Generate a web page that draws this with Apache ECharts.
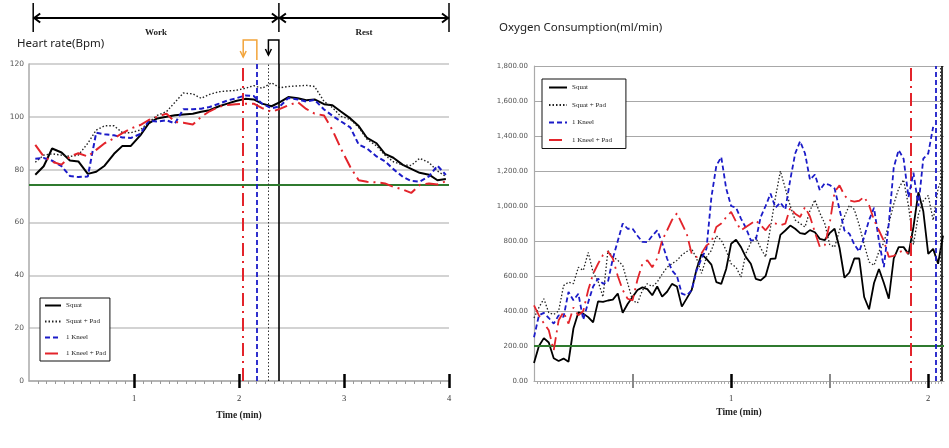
<!DOCTYPE html>
<html><head><meta charset="utf-8">
<script src="https://cdn.jsdelivr.net/npm/echarts@6/dist/echarts.min.js"></script>
<style>html,body{margin:0;padding:0;background:#fff}#c{width:949px;height:448px}</style>
</head><body><div id="c"></div>
<script>
// ---------- Left chart: Heart rate (Bpm) vs time (min) ----------
const hrTime = [0.06,0.14,0.22,0.31,0.39,0.47,0.56,0.64,0.72,0.81,0.89,0.97,1.06,1.14,1.22,1.31,1.39,1.47,1.56,1.64,1.72,1.81,1.89,1.97,2.06,2.14,2.22,2.31,2.39,2.47,2.56,2.64,2.72,2.81,2.89,2.97,3.06,3.14,3.22,3.31,3.39,3.47,3.56,3.64,3.72,3.81,3.89,3.97];
const hrSquat = [78.1,81.3,88,86.5,83.5,83.1,78.4,79.2,81.5,86,89,89,93,97.5,99.4,100,100.6,100.9,101.2,101.9,102.5,104,105,106,106.8,106.6,105,104,105.6,107.5,107,106.3,106.6,104.8,104.4,102,99.4,96.5,92,90,86,84.5,81.8,80.3,78.8,78.1,76,76.5];
const hrSquatPad = [82.8,85.5,86,85.5,85,85.5,90,95,96.6,96.6,94,94,95,98,100.5,102,105.5,109,108.7,107,108.5,109.5,109.8,110,110.8,111.8,110.8,112.9,111,111.5,111.7,111.9,111.5,105.8,103.5,100.2,99,96,91.5,89,85.5,83,81.8,81.6,84.3,82.7,79.5,77.4];
const hrKneel = [84.1,84.4,83.4,81.3,77.6,77.2,77.4,94,93.4,93,92.2,92,93.5,98.5,98.2,98.7,97.5,102.9,102.9,103.1,103.7,105,106.2,107,108.1,107.9,105,103.2,104,107.1,106.6,105.8,106.4,102.8,100.4,98.3,96,89.5,88,85,83.2,80.2,77.3,75.7,75.5,77.5,81.5,78];
const hrKneelPad = [89.4,85,83,81.9,85,86.2,85,87.5,90,91.9,93.8,95.6,96.9,98.8,100,101.2,98.1,97.8,97.1,100,102.1,103.8,104.5,104.8,105,105,103.3,101.9,103,104.4,105.6,103,101.2,100.5,95,88,81,76,75.4,75.2,74.8,73.5,72.5,71.2,74.2,74.8,74.4,75.6];
const hrEndMarks = [2.38, 2.28, 2.17, 2.04];   // end of work per condition
const hrRestLevel = 74.3;
const hrTicks = [1,2,3,4];
const workStart = 0.04, restEnd = 4;

// ---------- Right chart: Oxygen consumption (ml/min) vs time (min) ----------
const o2Time = [0,0.025,0.05,0.075,0.1,0.125,0.15,0.175,0.2,0.225,0.25,0.275,0.3,0.325,0.35,0.375,0.4,0.425,0.45,0.475,0.5,0.525,0.55,0.575,0.6,0.625,0.65,0.675,0.7,0.725,0.75,0.775,0.8,0.825,0.85,0.875,0.9,0.925,0.95,0.975,1,1.025,1.05,1.075,1.1,1.125,1.15,1.175,1.2,1.225,1.25,1.275,1.3,1.325,1.35,1.375,1.4,1.425,1.45,1.475,1.5,1.525,1.55,1.575,1.6,1.625,1.65,1.675,1.7,1.725,1.75,1.775,1.8,1.825,1.85,1.875,1.9,1.925,1.95,1.975,2,2.025,2.05,2.075];
const o2Squat = [103,200,245,220,130,114,128,110,300,392,385,365,335,455,452,460,465,500,390,440,480,520,535,525,490,540,482,510,555,540,425,472,520,640,725,698,665,565,555,640,784,807,765,708,670,584,575,600,698,700,835,860,888,870,845,840,862,850,812,805,845,870,760,590,620,700,700,480,410,560,640,560,470,700,765,765,725,880,1078,970,727,755,670,831];
const o2SquatPad = [360,420,470,390,380,400,545,565,556,650,632,735,620,570,480,745,710,690,660,560,460,445,518,556,540,565,610,650,670,689,720,740,755,700,615,708,746,830,805,746,670,650,594,730,790,820,760,709,880,1050,1200,1100,1000,920,900,880,974,1035,960,900,780,765,861,940,1004,980,890,780,680,661,740,790,900,1010,1100,1150,1000,780,950,1030,1060,918,1100,1180];
const o2Kneel = [250,375,389,360,328,375,366,509,461,499,350,450,540,585,556,566,700,800,900,870,870,830,795,794,830,861,790,700,632,600,499,490,518,632,700,756,1050,1230,1280,1100,1000,990,928,875,804,804,937,1000,1071,990,1020,980,1150,1300,1370,1300,1150,1180,1090,1130,1120,1100,980,860,842,780,740,823,920,990,800,651,900,1220,1320,1270,1050,1190,1000,1271,1300,1452];
const o2KneelPad = [432,375,330,290,175,347,394,328,420,375,400,520,613,670,720,740,700,600,520,470,461,580,670,690,650,700,803,860,920,958,900,841,727,708,730,775,794,880,900,936,966,910,861,880,899,918,890,861,899,900,890,899,990,956,937,994,940,850,766,775,900,1080,1118,1060,1032,1025,1030,1052,1004,920,860,800,709,715,735,747,728];
const o2EndMarks = [2.074, 2.06, 2.036, 1.91];
const o2RestLevel = 200;
const o2MajorTicks = [1,2];
const o2MinorTicks = [0.5,1.5];

const names = ['Squat','Squat + Pad','1 Kneel','1 Kneel + Pad'];
const styles = [
  {color:'#000000', width:2, type:'solid'},
  {color:'#222222', width:1.4, type:[1.5,2]},
  {color:'#1b1bc8', width:2, type:[5,3]},
  {color:'#e3242b', width:2, type:[13,5,2,5]}
];
const markStyles = [
  {color:'#000000', width:1.6, type:'solid'},
  {color:'#333333', width:1, type:[1.5,2]},
  {color:'#1b1bc8', width:1.8, type:[5,3]},
  {color:'#e3242b', width:2, type:[13,5,2,5]}
];
const green = '#2f7a2f';

const pair = (ts, vs) => vs.map((v,i)=>[ts[i], v]);
const hrData = [hrSquat, hrSquatPad, hrKneel, hrKneelPad];
const o2Data = [o2Squat, o2SquatPad, o2Kneel, o2KneelPad];

const series = [];
hrData.forEach((d,i)=>{
  const ml = [{xAxis: hrEndMarks[i], lineStyle: markStyles[i]}];
  if (i===0) ml.push({yAxis: hrRestLevel, lineStyle:{color:green, width:2, type:'solid'}});
  series.push({name:names[i], type:'line', xAxisIndex:0, yAxisIndex:0, data:pair(hrTime,d),
    symbol:'none', lineStyle:styles[i], itemStyle:{color:styles[i].color},
    markLine:{symbol:['none','none'], silent:true, label:{show:false}, data:ml}, z:3+i});
});
o2Data.forEach((d,i)=>{
  const ml = [{xAxis: o2EndMarks[i], lineStyle: markStyles[i]}];
  if (i===0) ml.push({yAxis: o2RestLevel, lineStyle:{color:green, width:2, type:'solid'}});
  const ls = Object.assign({}, styles[i], {width: i===1?1.3:1.8});
  series.push({name:names[i], type:'line', xAxisIndex:2, yAxisIndex:1, data:pair(o2Time,d),
    symbol:'none', lineStyle:ls, itemStyle:{color:styles[i].color},
    markLine:{symbol:['none','none'], silent:true, label:{show:false}, data:ml}, z:3+i});
});

const axName = {fontSize:9.5, fontFamily:'Liberation Serif', fontWeight:'bold', color:'#222'};
const axLab = {fontSize:8.5, fontFamily:'Liberation Serif', color:'#333', margin:13};
const legendBase = {data:names, orient:'vertical', borderColor:'#111', borderWidth:1, backgroundColor:'#fff',
  itemStyle:{opacity:0},
  textStyle:{fontSize:7, fontFamily:'Liberation Serif', color:'#222'}, selectedMode:false};

const chart = echarts.init(document.getElementById('c'));
chart.setOption({
  animation:false,
  grid:[
    {left:29, right:500, top:64, bottom:67},
    {left:534, right:5, top:66, bottom:67}
  ],
  legend:[
    Object.assign({}, legendBase, {left:40, top:298, itemGap:9, itemWidth:16, itemHeight:8, padding:[4,4,4,4]}),
    Object.assign({}, legendBase, {left:542, top:79, itemGap:10.5, itemWidth:18, itemHeight:8, padding:[5,14,5,6]})
  ],
  xAxis:[
    {gridIndex:0, type:'value', position:'bottom', min:0, max:4, interval:1,
      axisLine:{lineStyle:{color:'#aaaaaa', width:1.5}}, axisTick:{show:false},
      minorTick:{show:true, splitNumber:12, length:3, lineStyle:{color:'#999'}},
      splitLine:{show:false}, axisLabel:Object.assign({customValues:hrTicks}, axLab),
      name:'Time (min)', nameLocation:'middle', nameGap:30, nameTextStyle:axName},
    {gridIndex:0, type:'value', position:'bottom', min:0, max:4, interval:1, offset:-7,
      axisLine:{show:false}, axisLabel:{show:false}, splitLine:{show:false},
      axisTick:{show:true, customValues:hrTicks, length:14, lineStyle:{color:'#000', width:2.5}}},
    {gridIndex:1, type:'value', position:'bottom', min:0, max:2.08, interval:0.5,
      axisLine:{lineStyle:{color:'#aaaaaa', width:1.2}}, axisTick:{show:false},
      minorTick:{show:true, splitNumber:30, length:3, lineStyle:{color:'#aaa'}},
      splitLine:{show:false}, axisLabel:Object.assign({customValues:o2MajorTicks}, axLab),
      name:'Time (min)', nameLocation:'middle', nameGap:26, nameTextStyle:axName},
    {gridIndex:1, type:'value', position:'bottom', min:0, max:2.08, interval:0.5, offset:-7,
      axisLine:{show:false}, axisLabel:{show:false}, splitLine:{show:false},
      axisTick:{show:true, customValues:o2MinorTicks, length:14, lineStyle:{color:'#888', width:2}}},
    {gridIndex:1, type:'value', position:'bottom', min:0, max:2.08, interval:0.5, offset:-7,
      axisLine:{show:false}, axisLabel:{show:false}, splitLine:{show:false},
      axisTick:{show:true, customValues:o2MajorTicks, length:14, lineStyle:{color:'#000', width:2.5}}}
  ],
  yAxis:[
    {gridIndex:0, type:'value', min:0, max:120, interval:20,
      axisLine:{show:true, lineStyle:{color:'#aaaaaa', width:1.5}}, axisTick:{show:false},
      splitLine:{lineStyle:{color:'#c4c4c4', width:1.5}},
      axisLabel:{fontSize:7.5, color:'#555', margin:5, fontFamily:'DejaVu Sans'}},
    {gridIndex:1, type:'value', min:0, max:1800, interval:200,
      axisLine:{show:true, lineStyle:{color:'#aaaaaa', width:1.2}}, axisTick:{show:false},
      splitLine:{lineStyle:{color:'#a8a8a8', width:1}},
      axisLabel:{fontSize:7, color:'#555', margin:6, fontFamily:'DejaVu Sans',
        formatter:v=>v.toLocaleString('en-US',{minimumFractionDigits:2, maximumFractionDigits:2})}}
  ],
  series:series
});

// ---------- annotations placed through the axis scale ----------
const X = t => chart.convertToPixel({xAxisIndex:0}, t);
const xa = X(workStart), xm = X(hrEndMarks[0]), xb = X(restEnd);
const ay = 18;
const L = {stroke:'#000', lineWidth:2, fill:null};
const g = [];
g.push({type:'line', shape:{x1:xa,y1:ay,x2:xb,y2:ay}, style:L});
[xa,xm,xb].forEach(x=>g.push({type:'line', shape:{x1:x,y1:3,x2:x,y2:32}, style:{stroke:'#000', lineWidth:1.5}}));
const head=(x,dir)=>({type:'polyline', shape:{points:[[x+dir*7,ay-4.5],[x+dir*1,ay],[x+dir*7,ay+4.5]]}, style:L});
g.push(head(xa,1), head(xm,-1), head(xm,1), head(xb,-1));
g.push({type:'text', x:(xa+xm)/2, y:33, style:{text:'Work', font:'bold 9px "Liberation Serif"', fill:'#222', textAlign:'center', textVerticalAlign:'middle'}});
g.push({type:'text', x:(xm+xb)/2, y:33, style:{text:'Rest', font:'bold 9px "Liberation Serif"', fill:'#222', textAlign:'center', textVerticalAlign:'middle'}});
// brackets
const xr = X(hrEndMarks[3]), xk = X(hrEndMarks[2]), xd = X(hrEndMarks[1]);
const orange = '#f2a43a';
g.push({type:'polyline', shape:{points:[[xr,57],[xr,40],[xk,40],[xk,60]]}, style:{stroke:orange, lineWidth:1.5, fill:null}});
g.push({type:'polyline', shape:{points:[[xr-3,51],[xr,57],[xr+3,51]]}, style:{stroke:orange, lineWidth:1.5, fill:null}});
g.push({type:'polyline', shape:{points:[[xd,55],[xd,40],[xm,40],[xm,64]]}, style:{stroke:'#000', lineWidth:1.5, fill:null}});
g.push({type:'polyline', shape:{points:[[xd-3,49],[xd,55],[xd+3,49]]}, style:{stroke:'#000', lineWidth:1.5, fill:null}});
// titles
g.push({type:'text', x:17, y:44, style:{text:'Heart rate(Bpm)', font:'11.5px "Noto Sans"', fill:'#222', textVerticalAlign:'middle'}});
g.push({type:'text', x:499, y:28, style:{text:'Oxygen Consumption(ml/min)', font:'11.5px "Noto Sans"', fill:'#222', textVerticalAlign:'middle'}});
chart.setOption({graphic:g});
</script></body></html>
